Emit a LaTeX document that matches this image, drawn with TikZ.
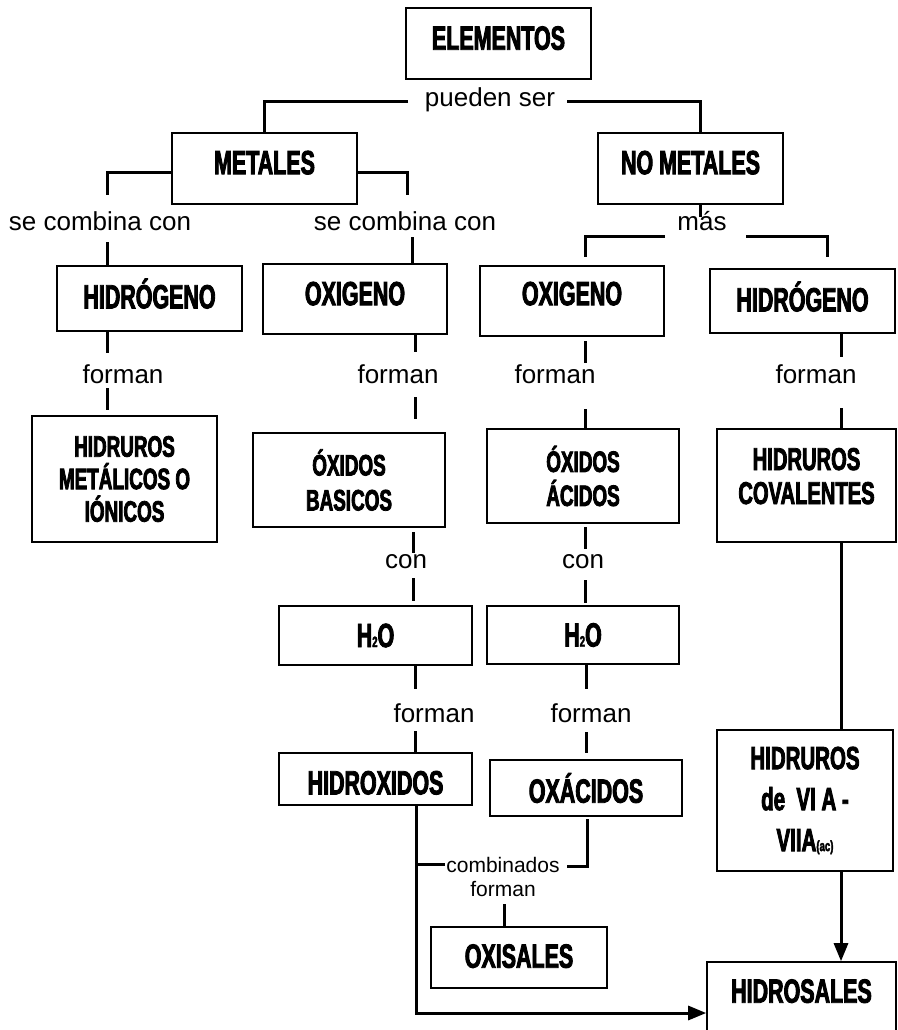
\documentclass[tikz,border=0pt]{standalone}
\usepackage{fontspec}
\setmainfont{Liberation Sans}
\newfontfamily\impact{Liberation Sans}[FakeStretch=0.64,FakeBold=2.6]
\usetikzlibrary{arrows.meta}
\newcommand{\lowsub}[1]{{\fontsize{15}{15}\selectfont #1}}
\newcommand{\dropby}[1]{\rule[-#1]{0pt}{0pt}}

\begin{document}
\begin{tikzpicture}[x=1pt,y=-1pt,
  box/.style={draw,line width=1.6pt,inner sep=0pt,align=center,
    font=\impact\bfseries\fontsize{33.5}{36}\selectfont},
  smallbox/.style={font=\impact\bfseries\fontsize{29.5}{#1}\selectfont},
  lift/.style={text depth=#1},
  lbl/.style={inner sep=0pt,anchor=base,font=\fontsize{26}{30}\selectfont},
  tinylbl/.style={inner sep=1pt,anchor=base,font=\fontsize{21}{24}\selectfont},
  conn/.style={line width=3pt},
  tip/.style={-{Triangle[width=14pt,length=18pt]}}]
  \useasboundingbox (0,0) rectangle (897,1030);

  % boxes
  \node[box,minimum width=185pt,minimum height=71pt,lift=11pt] (elem) at (498.5,43.5) {ELEMENTOS};
  \node[box,minimum width=185pt,minimum height=71pt,lift=12pt] (metal) at (264.5,168.5) {METALES};
  \node[box,minimum width=185pt,minimum height=71pt,lift=12pt] (nometal) at (690.5,168.5) {NO METALES};
  \node[box,minimum width=185pt,minimum height=65pt,lift=10pt] (hidA) at (149.5,298.5) {HIDRÓGENO};
  \node[box,minimum width=184pt,minimum height=70pt,lift=11pt] (oxA) at (355,299) {OXIGENO};
  \node[box,minimum width=184pt,minimum height=70pt,lift=15pt] (oxB) at (572,301) {OXIGENO};
  \node[box,minimum width=185pt,minimum height=64pt,lift=9pt] (hidB) at (802.5,301) {HIDRÓGENO};
  \node[box,smallbox=32.5pt,minimum width=185pt,minimum height=126pt] (hidM) at (124.5,479)
    {HIDRUROS\\METÁLICOS O\\IÓNICOS};
  \node[box,smallbox=35pt,minimum width=192pt,minimum height=94pt] (oxbas) at (349,480) {ÓXIDOS\\BASICOS};
  \node[box,smallbox=34pt,minimum width=192pt,minimum height=94pt] (oxac) at (583,476) {ÓXIDOS\\ÁCIDOS};
  \node[box,font=\impact\bfseries\fontsize{31.5}{34}\selectfont,minimum width=179pt,minimum height=113pt]
    (hidcov) at (806.5,485.5) {HIDRUROS\\COVALENTES\dropby{19pt}};
  \node[box,minimum width=193pt,minimum height=59pt] (h2oA) at (375.5,635.5) {H\lowsub{2}O};
  \node[box,minimum width=192pt,minimum height=58pt] (h2oB) at (583,635) {H\lowsub{2}O};
  \node[box,minimum width=193pt,minimum height=52pt,text height=31pt] (hidrox) at (375.5,779) {HIDROXIDOS};
  \node[box,minimum width=192pt,minimum height=56pt] (oxacid) at (586,788) {OXÁCIDOS};
  \node[box,minimum width=176pt,minimum height=61pt,lift=3pt] (oxis) at (519,957.5) {OXISALES};
  \node[box,font=\impact\bfseries\fontsize{32}{41}\selectfont,minimum width=176pt,minimum height=141pt]
    (hidVI) at (805,800.5) {HIDRUROS\\de~~VI A -\\VIIA\lowsub{(ac)}};
  \node[box,minimum width=189pt,minimum height=78pt,lift=20pt] (hidsal) at (801.5,1001) {HIDROSALES};

  % labels
  \node[lbl] (pueden) at (490,107) {pueden ser};
  \node[lbl] (combA) at (100,230) {se combina con};
  \node[lbl] (combB) at (405,230) {se combina con};
  \node[lbl] (mas) at (702,230) {más};
  \node[lbl] (formA) at (123,383) {forman};
  \node[lbl] (formB) at (398,383) {forman};
  \node[lbl] (formC) at (555,383) {forman};
  \node[lbl] (formD) at (816,383) {forman};
  \node[lbl] (conA) at (406,568) {con};
  \node[lbl] (conB) at (583,568) {con};
  \node[lbl] (formE) at (434,722) {forman};
  \node[lbl] (formF) at (591,722) {forman};
  \node[tinylbl] (combi) at (503,872) {combinados};
  \node[tinylbl] (formG) at (503,896) {forman};

  % free ends of the connectors
  \coordinate (pL) at (408,102);
  \coordinate (pR) at (567,102);
  \coordinate (scAt) at (107,195);
  \coordinate (scAb) at (107,242);
  \coordinate (scBt) at (407,195);
  \coordinate (scBb) at (412,237);
  \coordinate (masT) at (700,217);
  \coordinate (masL) at (665,236);
  \coordinate (masLe) at (585,257);
  \coordinate (masR) at (746,236);
  \coordinate (masRe) at (827,257);

  % top level
  \draw[conn] (pL) -| (metal.north);
  \draw[conn] (pR) -| ([xshift=9.5pt]nometal.north);
  \draw[conn] ([yshift=-3.5pt]metal.west) -| (scAt);
  \draw[conn] (scAb) -- (scAb |- hidA.north);
  \draw[conn] ([yshift=-3.5pt]metal.east) -| (scBt);
  \draw[conn] (scBb) -- (scBb |- oxA.north);
  \draw[conn] ([xshift=9.5pt]nometal.south) -- (masT);
  \draw[conn] (masL) -| (masLe);
  \draw[conn] (masR) -| (masRe);

  % metal + hydrogen
  \coordinate (a1) at (107,353);
  \coordinate (a2) at (107,388);
  \coordinate (a3) at (107,410);
  \draw[conn] (a1 |- hidA.south) -- (a1);
  \draw[conn] (a2) -- (a3);

  % metal + oxygen
  \coordinate (b1) at (415,352);
  \coordinate (b2) at (415,397);
  \coordinate (b3) at (415,419);
  \coordinate (b4) at (413,532);
  \coordinate (b5) at (413,553);
  \coordinate (b6) at (413,578);
  \coordinate (b7) at (413,601);
  \coordinate (b8) at (415,689);
  \coordinate (b9) at (415,731);
  \coordinate (c0) at (416,1013);
  \draw[conn] (b1 |- oxA.south) -- (b1);
  \draw[conn] (b2) -- (b3);
  \draw[conn] (b4) -- (b5);
  \draw[conn] (b6) -- (b7);
  \draw[conn] (b8 |- h2oA.south) -- (b8);
  \draw[conn] (b9) -- (b9 |- hidrox.north);
  \draw[conn,tip] (c0 |- hidrox.south) -- (c0) -- (c0 -| hidsal.west);

  % non-metal + oxygen
  \coordinate (d1) at (585,341);
  \coordinate (d2) at (585,363);
  \coordinate (d3) at (585,409);
  \coordinate (d4) at (585,527);
  \coordinate (d5) at (585,549);
  \coordinate (d6) at (585,580);
  \coordinate (d7) at (585,603);
  \coordinate (d8) at (586,689);
  \coordinate (d9) at (586,732);
  \coordinate (d10) at (586,753);
  \coordinate (d11) at (587,819);
  \coordinate (d12) at (567,866);
  \draw[conn] (d1) -- (d2);
  \draw[conn] (d3) -- (d3 |- oxac.north);
  \draw[conn] (d4) -- (d5);
  \draw[conn] (d6) -- (d7);
  \draw[conn] (d8 |- h2oB.south) -- (d8);
  \draw[conn] (d9) -- (d10);
  \draw[conn] (d11) |- (d12);

  % salts
  \coordinate (f1) at (504,904);
  \draw[conn] (combi.west) -- (combi.west -| c0);
  \draw[conn] (f1) -- (f1 |- oxis.north);

  % non-metal + hydrogen
  \coordinate (e1) at (841,357);
  \coordinate (e2) at (841,408);
  \draw[conn] (e1 |- hidB.south) -- (e1);
  \draw[conn] (e2) -- (e2 |- hidcov.north);
  \draw[conn] (e2 |- hidcov.south) -- (e2 |- hidVI.north);
  \draw[conn,tip] (e2 |- hidVI.south) -- (e2 |- hidsal.north);
\end{tikzpicture}
\end{document}
